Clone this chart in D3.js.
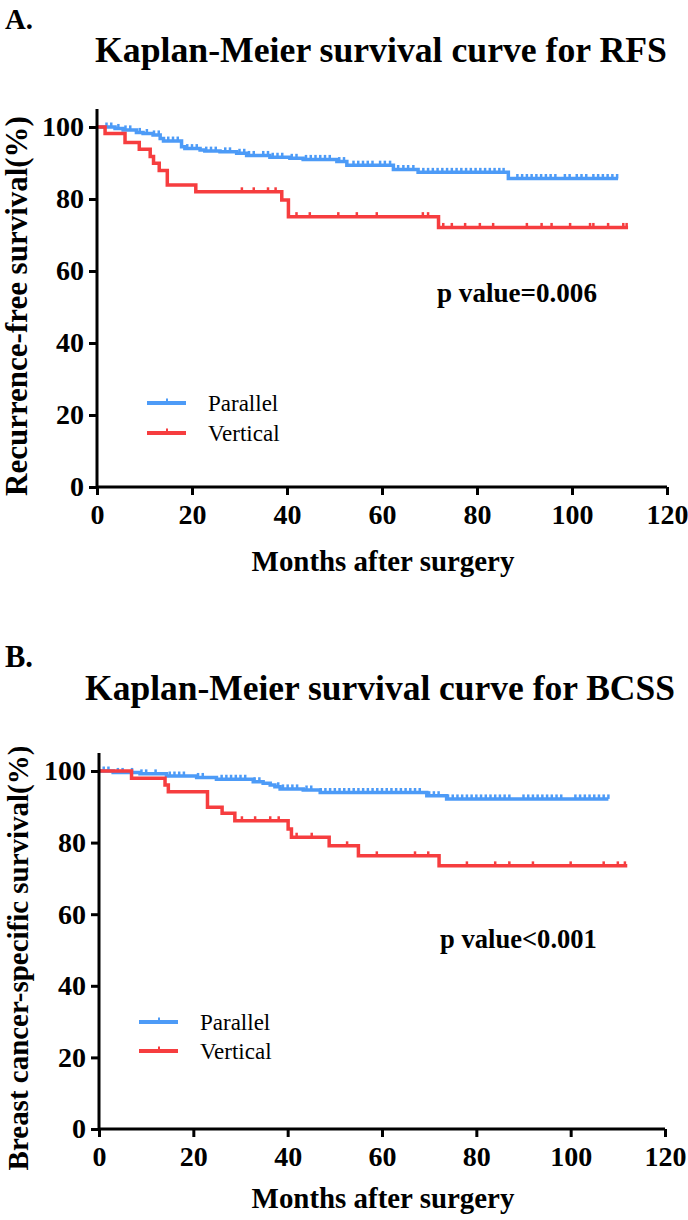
<!DOCTYPE html>
<html>
<head>
<meta charset="utf-8">
<script src="https://cdn.jsdelivr.net/npm/d3@7"></script>
</head>
<body style="margin:0;background:#fff">
<svg id="chart" width="688" height="1220"></svg>
<script>
// ---- data (months, survival %) ----
var xTicks = [0, 20, 40, 60, 80, 100, 120];
var yTicks = [0, 20, 40, 60, 80, 100];
var groups = ["Parallel", "Vertical"];
var colors = ["#4d9bf7", "#f63d3f"];

// RFS: step points [month, %], last point = end of follow-up
var rfsParallel = [[0,100],[3.8,99.6],[5.5,99.2],[8.3,98.5],[9.7,98.2],[11.8,97.8],[13.3,96.8],[14,96.1],
  [17.8,94.5],[18.5,94.0],[21.7,93.6],[22.7,93.3],[25.9,93.1],[29.4,92.7],[31.5,92.1],[36.4,91.6],
  [40.6,91.3],[43.4,91.0],[50.5,90.4],[52.6,89.4],[62.4,88.2],[67.6,87.4],[86.6,85.7],[109.7,85.7]];
var rfsVertical = [[0,100],[1.7,98.2],[5.9,95.7],[8.9,93.8],[11.2,91.8],[11.9,89.9],[13.1,87.9],[14.8,83.9],
  [20.8,82.0],[38.9,79.7],[40.3,75.1],[71.9,72.1],[111.8,72.1]];
var rfsParallelCensor = [2,3,4.5,6,7,9,10.5,12,13,15,16,17,19,20,21,23,24,25,27,28,30,31,32,33,35,36,37,38,39,
  41,42,44,45,46,47,48,49,51,52,54,55,56,57,58,59.6,60.6,61.7,63.4,64.5,65.5,66.6,68.7,69.7,70.7,71.7,72.7,
  73.7,74.7,75.7,76.7,77.7,78.7,79.7,80.7,81.7,82.7,83.7,84.7,85.6,88.5,89.5,90.5,91.5,92.5,93.5,94.5,95.5,
  96.5,98.5,99.5,101,102,103,104.5,105.5,106.5,107.5,108.5,109.5];
var rfsVerticalCensor = [30.5,33,36,37.6,42,44.8,50.8,54.7,58.9,68.6,69.7,72.9,74.7,77.5,80.6,83.4,90.5,93.6,
  95.7,99.6,103.8,104.5,107.6,110.8,111.5];

// BCSS
var bcssParallel = [[0,100],[3,99.6],[8.7,99.2],[14.3,98.6],[20.7,98.2],[24.9,97.7],[32.7,97.0],[34.8,96.6],
  [36.3,96.1],[37.3,95.6],[38.4,95.0],[43.3,94.7],[46.9,94.0],[69.5,93.1],[73.7,92.2],[108,92.2]];
var bcssVertical = [[0,100],[6.9,98.0],[14.0,96.1],[14.7,94.2],[23.0,89.9],[26.1,88.2],[28.8,86.1],[40.1,83.8],
  [40.8,81.5],[48.8,79.1],[55.0,76.3],[72.1,73.5],[112,73.5]];
var bcssParallelCensor = [1,2,4,5,7,9,10,12,15,16,17,18,21,22,26,27,28,29,30,31,33,34,38,39,40,41,42,44,45,
  47,48,49,50,51,52,53,54,55,56,57,58,59,60,61,62,63,64,65,66,67,68,70,71,72,74,75,76,77,78,79,80,81,82,83,
  84,85,86,87,90,91,92,93,94,95,96,97,98,101,102,103,104,105,106,107,108];
var bcssVerticalCensor = [30.3,33.1,36.3,38.1,41.9,45.1,52.6,58.9,67,69.8,78,84,87,92,100,107,110,111.5];

var FONT = "Liberation Serif";
var svg = d3.select("#chart");

function stepValue(pts, t){
  var v = pts[0][1];
  for(var i = 0; i < pts.length; i++){ if(pts[i][0] <= t) v = pts[i][1]; }
  return v;
}

// scale the font so the text runs the width it has in the figure
function fit(sel, width){
  var n = sel.node();
  var fs = parseFloat(sel.style("font-size"));
  sel.style("font-size", (fs * width / n.getComputedTextLength()) + "px");
  return sel;
}

function txt(g, x, y, s, bold){
  return g.append("text").attr("x", x).attr("y", y).text(s)
    .style("font-family", FONT).style("font-weight", bold ? "bold" : "normal").style("font-size", "20px");
}

function panel(o){
  var g = svg.append("g");
  var x = d3.scaleLinear().domain([0, 120]).range([o.left, o.right]);
  var y = d3.scaleLinear().domain([0, 105]).range([o.bottom, o.bottom - 105 * (o.bottom - o.top) / 100]);

  fit(txt(g, 5, o.letterY, o.letter, true), 28);
  fit(txt(g, o.titleX, o.titleY, o.title, true).attr("text-anchor", "middle"), o.titleW);

  var line = d3.line().x(function(d){return x(d[0]);}).y(function(d){return y(d[1]);}).curve(d3.curveStepAfter);
  o.series.forEach(function(s, i){
    g.append("path").datum(s).attr("fill", "none").attr("stroke", colors[i]).attr("stroke-width", 3.5).attr("d", line);
    g.selectAll(null).data(o.censor[i]).enter().append("line")
      .attr("x1", function(d){return x(d);}).attr("x2", function(d){return x(d);})
      .attr("y1", function(d){return y(stepValue(s, d)) - 4.5;}).attr("y2", function(d){return y(stepValue(s, d));})
      .attr("stroke", colors[i]).attr("stroke-width", 2.5);
  });

  var xa = g.append("g").attr("transform", "translate(0," + o.bottom + ")")
    .call(d3.axisBottom(x).tickValues(xTicks).tickSize(8).tickPadding(9));
  var ya = g.append("g").attr("transform", "translate(" + o.left + ",0)")
    .call(d3.axisLeft(y).tickValues(yTicks).tickSize(8).tickPadding(5));
  [xa, ya].forEach(function(a){
    a.attr("font-family", null);
    a.select(".domain").attr("stroke", "#000").attr("stroke-width", 3);
    a.selectAll(".tick line").attr("stroke", "#000").attr("stroke-width", 3);
    a.selectAll(".tick text").attr("fill", "#000")
      .style("font-family", FONT).style("font-weight", "bold").style("font-size", "28px");
  });
  xa.select(".domain").attr("d", "M" + o.left + ",0H" + o.right);
  ya.select(".domain").attr("d", "M0," + o.bottom + "V" + y(105));

  fit(txt(g, (o.left + o.right) / 2 + 1, o.xLabelY, "Months after surgery", true).attr("text-anchor", "middle"), 263);
  fit(txt(g, 0, 0, o.yLabel, true).attr("text-anchor", "middle")
    .attr("transform", "translate(" + o.yLabelX + "," + o.yLabelY + ") rotate(-90)"), o.yLabelW);

  fit(txt(g, o.pX, o.pY, o.pText, true), o.pW);

  groups.forEach(function(name, i){
    var ly = o.legY + i * o.legGap;
    g.append("line").attr("x1", o.legX).attr("x2", o.legX + 39).attr("y1", ly).attr("y2", ly)
      .attr("stroke", colors[i]).attr("stroke-width", 4);
    g.append("line").attr("x1", o.legX + 20).attr("x2", o.legX + 20).attr("y1", ly - 4.5).attr("y2", ly)
      .attr("stroke", colors[i]).attr("stroke-width", 2);
    txt(g, o.legX + 61, ly + 8, name, false).style("font-size", "23px");
  });
}

panel({
  letter: "A.", letterY: 29, title: "Kaplan-Meier survival curve for RFS", titleX: 381, titleY: 62, titleW: 572,
  left: 97, right: 667, top: 127, bottom: 487,
  series: [rfsParallel, rfsVertical], censor: [rfsParallelCensor, rfsVerticalCensor],
  xLabelY: 571, yLabel: "Recurrence-free survival(%)", yLabelX: 27, yLabelY: 306, yLabelW: 380,
  pText: "p value=0.006", pX: 437, pY: 302, pW: 160,
  legX: 147, legY: 403, legGap: 30
});

panel({
  letter: "B.", letterY: 667, title: "Kaplan-Meier survival curve for BCSS", titleX: 380, titleY: 700, titleW: 590,
  left: 99, right: 665, top: 771, bottom: 1129,
  series: [bcssParallel, bcssVertical], censor: [bcssParallelCensor, bcssVerticalCensor],
  xLabelY: 1208, yLabel: "Breast cancer-specific survival(%)", yLabelX: 28, yLabelY: 958, yLabelW: 425,
  pText: "p value<0.001", pX: 440, pY: 948, pW: 157,
  legX: 139, legY: 1022, legGap: 29
});
</script>
</body>
</html>
